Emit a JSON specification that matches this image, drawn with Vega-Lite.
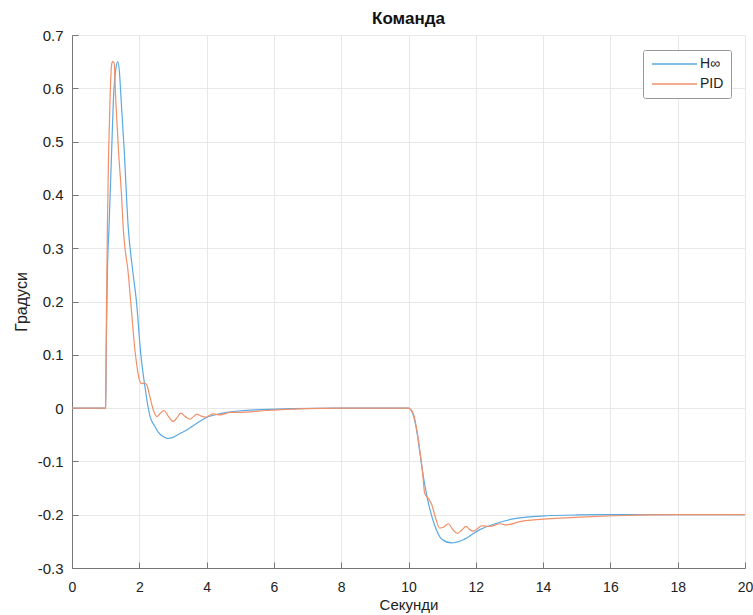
{
  "$schema": "https://vega.github.io/schema/vega-lite/v6.json",
  "width": 673,
  "height": 533,
  "autosize": {"type": "none"},
  "padding": {"left": 72, "top": 35, "right": 8, "bottom": 47},
  "background": "white",
  "title": {"text": "Команда", "fontSize": 17, "fontWeight": "bold", "font": "Liberation Sans", "color": "#111", "offset": 0, "anchor": "middle"},
  "config": {
    "view": {"stroke": "#cfcfcf", "strokeWidth": 1},
    "axis": {
      "labelFont": "Liberation Sans", "titleFont": "Liberation Sans",
      "labelFontSize": 15, "titleFontWeight": "normal",
      "labelColor": "#222", "titleColor": "#222",
      "domainColor": "#777", "tickColor": "#777", "tickSize": -6,
      "gridColor": "#e8e8e8", "gridWidth": 1
    }
  },
  "data": {"values": [
    {"t":0,"v":0,"s":"H∞"},{"t":1.0,"v":0,"s":"H∞"},{"t":1.02,"v":0.12,"s":"H∞"},{"t":1.05,"v":0.25,"s":"H∞"},{"t":1.1,"v":0.34,"s":"H∞"},{"t":1.18,"v":0.485,"s":"H∞"},{"t":1.23,"v":0.578,"s":"H∞"},{"t":1.3,"v":0.635,"s":"H∞"},{"t":1.36,"v":0.65,"s":"H∞"},{"t":1.41,"v":0.63,"s":"H∞"},{"t":1.46,"v":0.578,"s":"H∞"},{"t":1.55,"v":0.485,"s":"H∞"},{"t":1.67,"v":0.34,"s":"H∞"},{"t":1.8,"v":0.26,"s":"H∞"},{"t":1.92,"v":0.197,"s":"H∞"},{"t":2.04,"v":0.104,"s":"H∞"},{"t":2.15,"v":0.048,"s":"H∞"},{"t":2.32,"v":-0.016,"s":"H∞"},{"t":2.45,"v":-0.033,"s":"H∞"},{"t":2.55,"v":-0.044,"s":"H∞"},{"t":2.7,"v":-0.053,"s":"H∞"},{"t":2.85,"v":-0.057,"s":"H∞"},{"t":3.0,"v":-0.055,"s":"H∞"},{"t":3.2,"v":-0.048,"s":"H∞"},{"t":3.41,"v":-0.041,"s":"H∞"},{"t":3.7,"v":-0.029,"s":"H∞"},{"t":3.95,"v":-0.019,"s":"H∞"},{"t":4.3,"v":-0.012,"s":"H∞"},{"t":4.6,"v":-0.008,"s":"H∞"},{"t":5.0,"v":-0.005,"s":"H∞"},{"t":5.6,"v":-0.003,"s":"H∞"},{"t":6.5,"v":-0.001,"s":"H∞"},{"t":8,"v":0,"s":"H∞"},{"t":10.0,"v":0,"s":"H∞"},{"t":10.05,"v":-0.002,"s":"H∞"},{"t":10.14,"v":-0.0126,"s":"H∞"},{"t":10.24,"v":-0.041,"s":"H∞"},{"t":10.34,"v":-0.084,"s":"H∞"},{"t":10.44,"v":-0.128,"s":"H∞"},{"t":10.54,"v":-0.163,"s":"H∞"},{"t":10.64,"v":-0.191,"s":"H∞"},{"t":10.79,"v":-0.222,"s":"H∞"},{"t":10.99,"v":-0.246,"s":"H∞"},{"t":11.28,"v":-0.253,"s":"H∞"},{"t":11.63,"v":-0.247,"s":"H∞"},{"t":12.12,"v":-0.228,"s":"H∞"},{"t":12.62,"v":-0.216,"s":"H∞"},{"t":13.11,"v":-0.208,"s":"H∞"},{"t":13.61,"v":-0.204,"s":"H∞"},{"t":14.11,"v":-0.202,"s":"H∞"},{"t":15,"v":-0.2005,"s":"H∞"},{"t":16,"v":-0.2,"s":"H∞"},{"t":20,"v":-0.2,"s":"H∞"},
    {"t":0,"v":0,"s":"PID"},{"t":1.0,"v":0,"s":"PID"},{"t":1.02,"v":0.15,"s":"PID"},{"t":1.05,"v":0.334,"s":"PID"},{"t":1.09,"v":0.485,"s":"PID"},{"t":1.13,"v":0.578,"s":"PID"},{"t":1.17,"v":0.64,"s":"PID"},{"t":1.2,"v":0.65,"s":"PID"},{"t":1.25,"v":0.648,"s":"PID"},{"t":1.3,"v":0.578,"s":"PID"},{"t":1.38,"v":0.485,"s":"PID"},{"t":1.48,"v":0.39,"s":"PID"},{"t":1.52,"v":0.34,"s":"PID"},{"t":1.58,"v":0.297,"s":"PID"},{"t":1.66,"v":0.26,"s":"PID"},{"t":1.74,"v":0.203,"s":"PID"},{"t":1.87,"v":0.109,"s":"PID"},{"t":1.95,"v":0.07,"s":"PID"},{"t":2.0,"v":0.053,"s":"PID"},{"t":2.07,"v":0.046,"s":"PID"},{"t":2.15,"v":0.047,"s":"PID"},{"t":2.22,"v":0.044,"s":"PID"},{"t":2.3,"v":0.025,"s":"PID"},{"t":2.4,"v":0.0,"s":"PID"},{"t":2.47,"v":-0.012,"s":"PID"},{"t":2.52,"v":-0.016,"s":"PID"},{"t":2.62,"v":-0.01,"s":"PID"},{"t":2.73,"v":-0.0045,"s":"PID"},{"t":2.87,"v":-0.016,"s":"PID"},{"t":3.01,"v":-0.025,"s":"PID"},{"t":3.12,"v":-0.018,"s":"PID"},{"t":3.23,"v":-0.0094,"s":"PID"},{"t":3.37,"v":-0.016,"s":"PID"},{"t":3.51,"v":-0.0206,"s":"PID"},{"t":3.61,"v":-0.016,"s":"PID"},{"t":3.71,"v":-0.0113,"s":"PID"},{"t":3.84,"v":-0.015,"s":"PID"},{"t":3.97,"v":-0.0169,"s":"PID"},{"t":4.08,"v":-0.014,"s":"PID"},{"t":4.2,"v":-0.0107,"s":"PID"},{"t":4.4,"v":-0.0126,"s":"PID"},{"t":4.7,"v":-0.0082,"s":"PID"},{"t":5.19,"v":-0.0075,"s":"PID"},{"t":5.79,"v":-0.0045,"s":"PID"},{"t":6.58,"v":-0.002,"s":"PID"},{"t":8,"v":0,"s":"PID"},{"t":10,"v":0,"s":"PID"},{"t":10.05,"v":-0.002,"s":"PID"},{"t":10.14,"v":-0.01,"s":"PID"},{"t":10.24,"v":-0.038,"s":"PID"},{"t":10.34,"v":-0.081,"s":"PID"},{"t":10.42,"v":-0.122,"s":"PID"},{"t":10.48,"v":-0.16,"s":"PID"},{"t":10.58,"v":-0.169,"s":"PID"},{"t":10.69,"v":-0.181,"s":"PID"},{"t":10.79,"v":-0.203,"s":"PID"},{"t":10.93,"v":-0.225,"s":"PID"},{"t":11.05,"v":-0.223,"s":"PID"},{"t":11.18,"v":-0.217,"s":"PID"},{"t":11.32,"v":-0.228,"s":"PID"},{"t":11.45,"v":-0.235,"s":"PID"},{"t":11.58,"v":-0.229,"s":"PID"},{"t":11.71,"v":-0.222,"s":"PID"},{"t":11.82,"v":-0.228,"s":"PID"},{"t":11.93,"v":-0.231,"s":"PID"},{"t":12.05,"v":-0.226,"s":"PID"},{"t":12.17,"v":-0.221,"s":"PID"},{"t":12.42,"v":-0.222,"s":"PID"},{"t":12.72,"v":-0.217,"s":"PID"},{"t":12.92,"v":-0.219,"s":"PID"},{"t":13.31,"v":-0.213,"s":"PID"},{"t":14.11,"v":-0.208,"s":"PID"},{"t":15.1,"v":-0.2045,"s":"PID"},{"t":16.1,"v":-0.202,"s":"PID"},{"t":17.1,"v":-0.2005,"s":"PID"},{"t":18,"v":-0.2,"s":"PID"},{"t":20,"v":-0.2,"s":"PID"}
  ]},
  "mark": {"type": "line", "strokeWidth": 1.2, "interpolate": "monotone"},
  "encoding": {
    "x": {"field": "t", "type": "quantitative", "scale": {"domain": [0, 20], "nice": false},
      "axis": {"title": "Секунди", "titleFontSize": 15, "labelFontSize": 14, "values": [0,2,4,6,8,10,12,14,16,18,20], "labelPadding": 18, "titlePadding": 3, "labelAlign": "center"}},
    "y": {"field": "v", "type": "quantitative", "scale": {"domain": [-0.3, 0.7], "nice": false, "zero": false},
      "axis": {"title": "Градуси", "titleFontSize": 16, "values": [-0.3,-0.2,-0.1,0,0.1,0.2,0.3,0.4,0.5,0.6,0.7], "labelPadding": 15, "titlePadding": 8,
        "labelExpr": "datum.value == 0 ? '0' : replace(format(datum.value, '.1f'), '\u2212', '-')"}},
    "color": {"field": "s", "type": "nominal",
      "scale": {"domain": ["H∞", "PID"], "range": ["#5aa9e2", "#f0906a"]},
      "legend": {"title": null, "orient": "none", "legendX": 571, "legendY": 15,
        "symbolType": "M-1,0H8", "symbolSize": 100, "symbolStrokeWidth": 1.5,
        "labelFont": "Liberation Sans", "labelFontSize": 14, "labelColor": "#222",
        "fillColor": "white", "strokeColor": "#999", "padding": 7, "rowPadding": 6, "labelOffset": 36, "cornerRadius": 2}}
  }
}
